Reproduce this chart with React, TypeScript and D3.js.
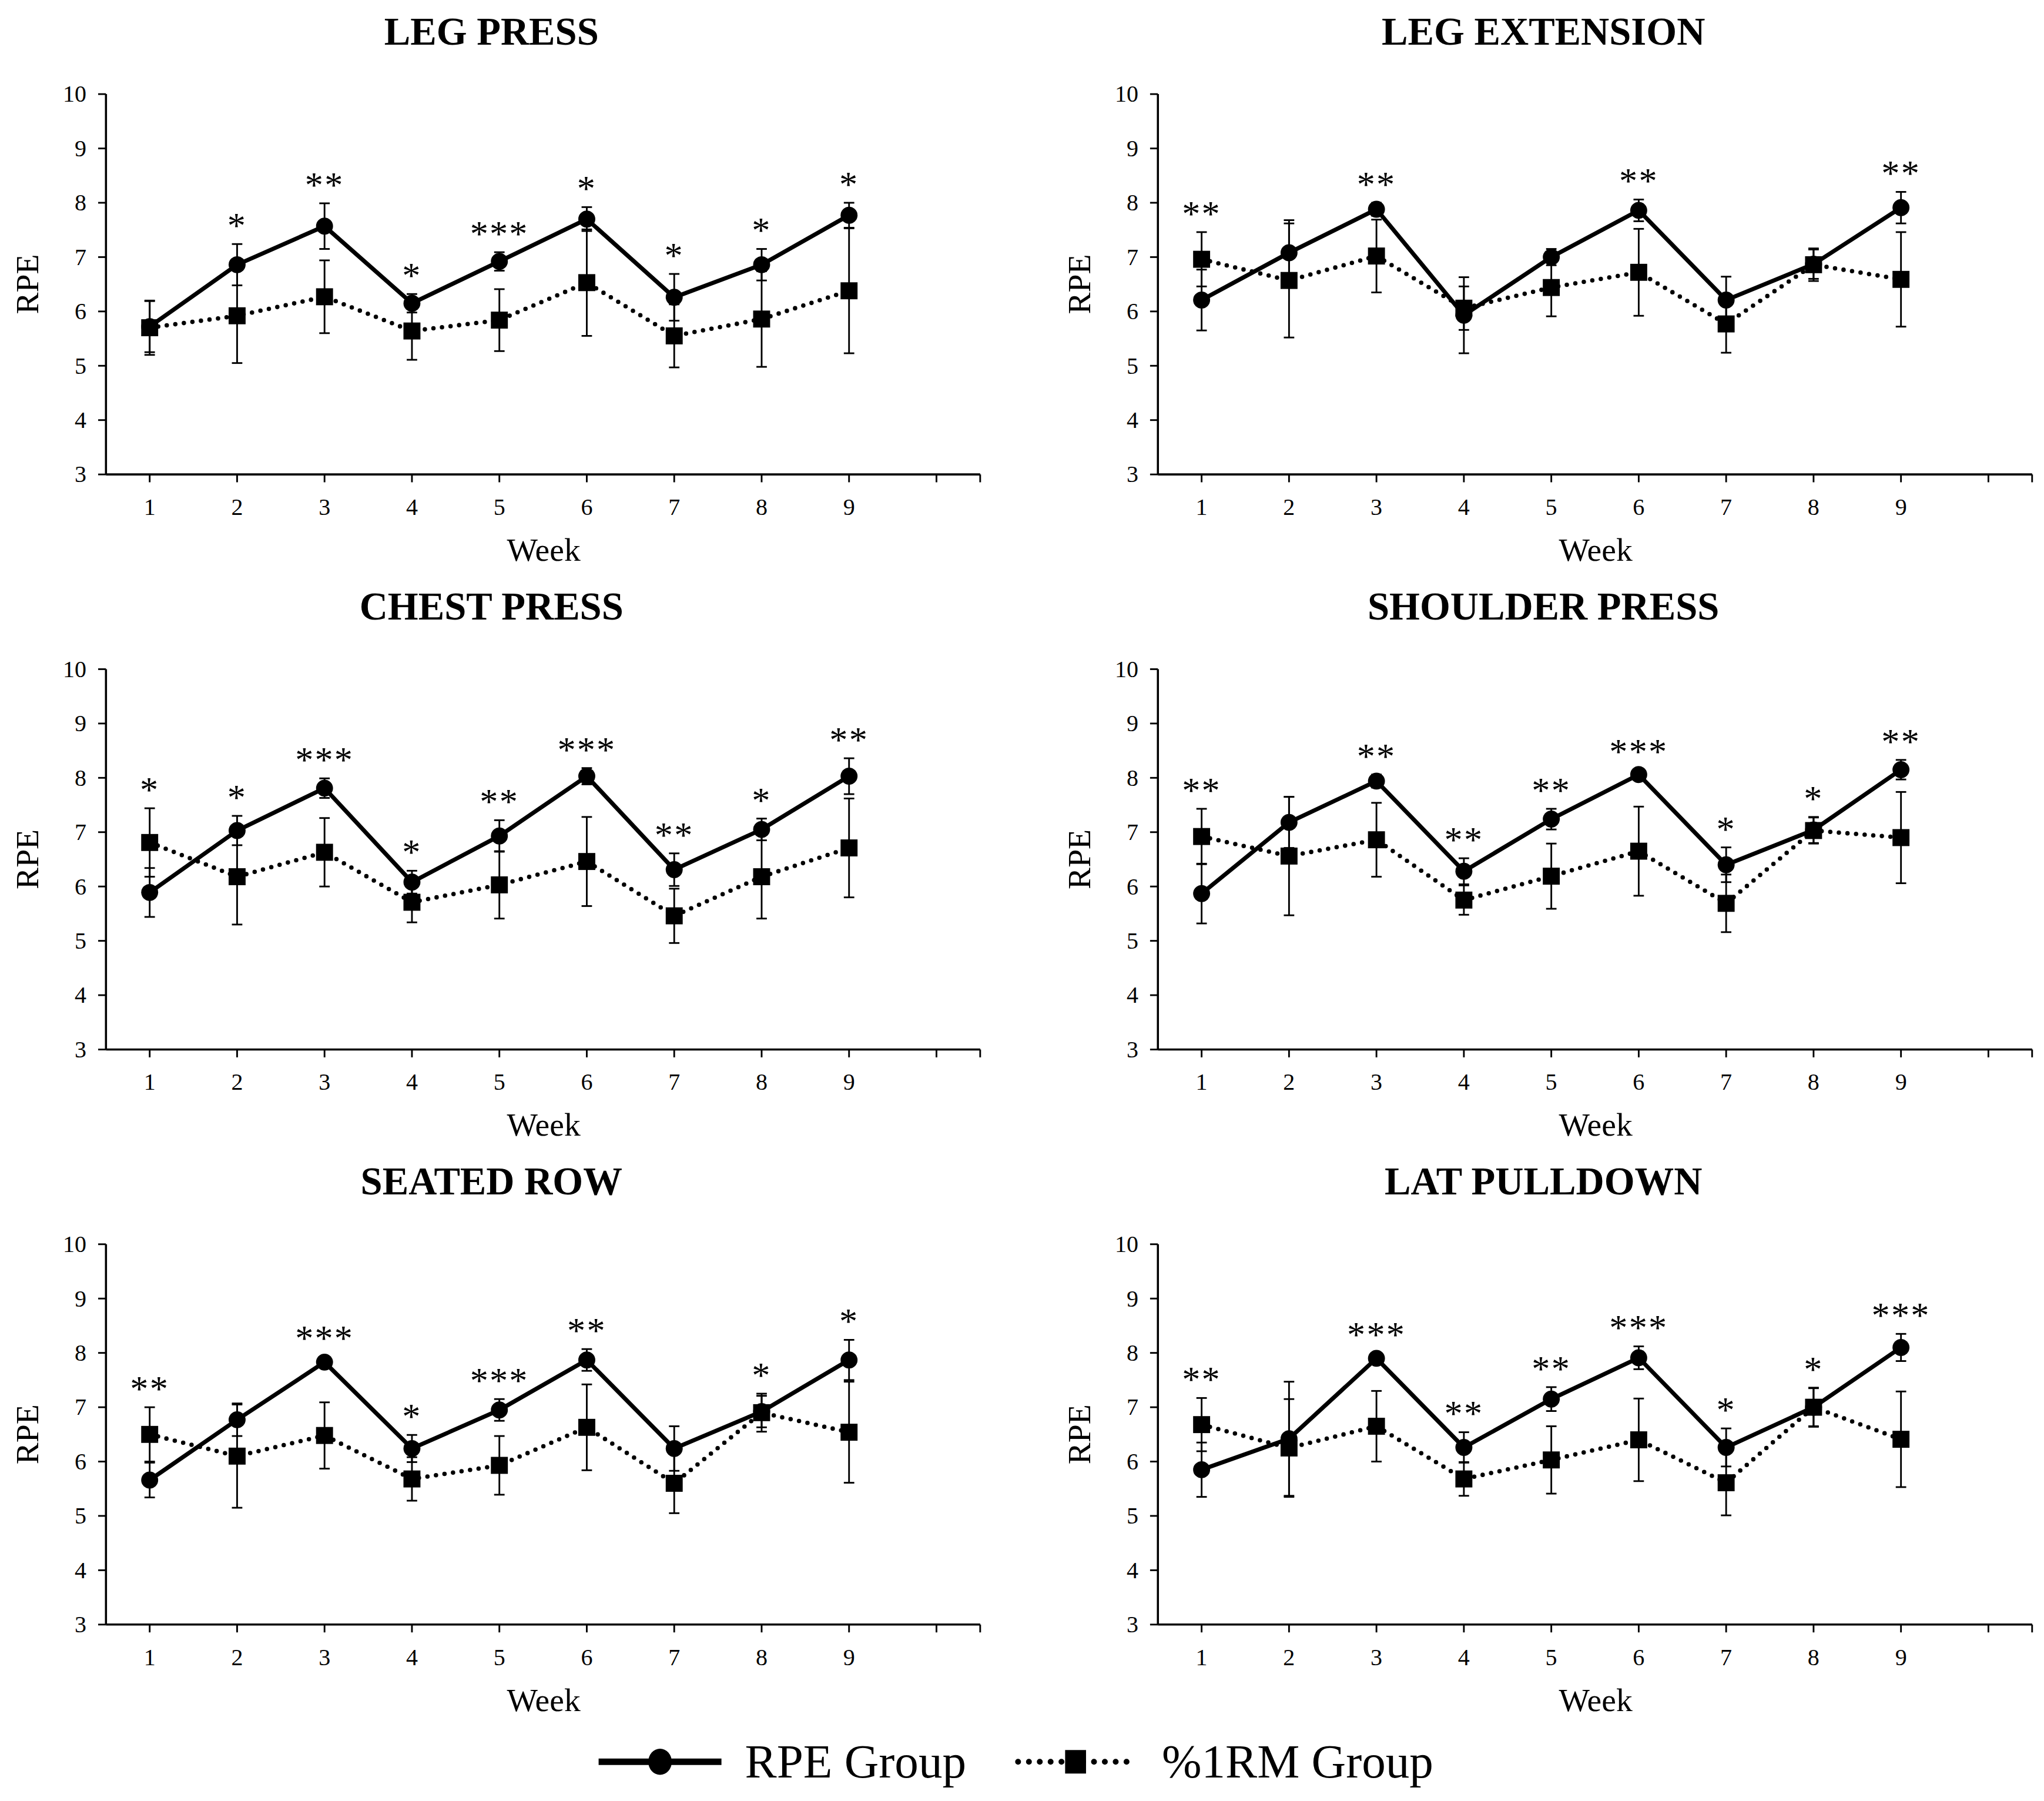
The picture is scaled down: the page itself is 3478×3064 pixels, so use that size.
import React from 'react';
import { scaleLinear, line } from 'd3';

const weeks = [1, 2, 3, 4, 5, 6, 7, 8, 9];
const yTicks = [3, 4, 5, 6, 7, 8, 9, 10];
const xTicks = [1, 2, 3, 4, 5, 6, 7, 8, 9, 10];
const exercises = ['LEG PRESS', 'LEG EXTENSION', 'CHEST PRESS', 'SHOULDER PRESS', 'SEATED ROW', 'LAT PULLDOWN'];

// RPE group means / SD per exercise (rows follow `exercises`)
const rpeMean = [
  [5.72, 6.86, 7.57, 6.15, 6.92, 7.7, 6.26, 6.86, 7.77],
  [6.21, 7.08, 7.88, 5.93, 7.0, 7.86, 6.21, 6.87, 7.91],
  [5.89, 7.03, 7.81, 6.08, 6.93, 8.03, 6.31, 7.05, 8.03],
  [5.87, 7.18, 7.94, 6.28, 7.24, 8.06, 6.4, 7.04, 8.15],
  [5.66, 6.77, 7.83, 6.24, 6.95, 7.87, 6.24, 6.92, 7.87],
  [5.85, 6.42, 7.9, 6.26, 7.15, 7.91, 6.26, 7.0, 8.1],
];
const rpeSd = [
  [0.47, 0.38, 0.42, 0.17, 0.17, 0.22, 0.43, 0.29, 0.23],
  [0.56, 0.6, 0.12, 0.7, 0.15, 0.2, 0.43, 0.27, 0.29],
  [0.45, 0.27, 0.18, 0.21, 0.29, 0.15, 0.3, 0.2, 0.33],
  [0.55, 0.47, 0.12, 0.24, 0.19, 0.08, 0.32, 0.24, 0.18],
  [0.32, 0.3, 0.1, 0.25, 0.2, 0.2, 0.41, 0.29, 0.37],
  [0.5, 1.05, 0.1, 0.28, 0.22, 0.21, 0.35, 0.36, 0.25],
];

// %1RM group means / SD
const rmMean = [
  [5.7, 5.92, 6.27, 5.64, 5.84, 6.53, 5.55, 5.86, 6.38],
  [6.96, 6.57, 7.02, 6.06, 6.44, 6.72, 5.77, 6.86, 6.59],
  [6.81, 6.18, 6.63, 5.71, 6.03, 6.46, 5.46, 6.18, 6.71],
  [6.92, 6.56, 6.86, 5.75, 6.19, 6.65, 5.69, 7.03, 6.9],
  [6.5, 6.1, 6.48, 5.68, 5.93, 6.63, 5.6, 6.9, 6.54],
  [6.68, 6.25, 6.65, 5.68, 6.03, 6.4, 5.61, 7.0, 6.41],
];
const rmSd = [
  [0.5, 0.87, 0.67, 0.53, 0.57, 0.98, 0.58, 0.88, 1.15],
  [0.5, 1.05, 0.67, 0.4, 0.53, 0.8, 0.53, 0.3, 0.87],
  [0.63, 0.88, 0.63, 0.37, 0.62, 0.82, 0.5, 0.77, 0.91],
  [0.51, 1.09, 0.68, 0.27, 0.6, 0.82, 0.53, 0.24, 0.84],
  [0.5, 0.95, 0.61, 0.4, 0.54, 0.79, 0.55, 0.35, 0.93],
  [0.49, 0.9, 0.65, 0.31, 0.62, 0.76, 0.6, 0.35, 0.88],
];

const stars = [
  ['', '*', '**', '*', '***', '*', '*', '*', '*'],
  ['**', '', '**', '', '', '**', '', '', '**'],
  ['*', '*', '***', '*', '**', '***', '**', '*', '**'],
  ['**', '', '**', '**', '**', '***', '*', '*', '**'],
  ['**', '', '***', '*', '***', '**', '', '*', '*'],
  ['**', '', '***', '**', '**', '***', '*', '*', '***'],
];

const W = 669;
const H = 291;
const colX = [81, 886];
const rowY = [72, 512, 952];
const font = "'Liberation Serif', 'Times New Roman', serif";

const x = scaleLinear().domain([0.5, 10.5]).range([0, W]);
const y = scaleLinear().domain([3, 10]).range([H, 0]);
const path = line<[number, number]>()
  .x((d) => x(d[0]))
  .y((d) => y(d[1]));

const ErrBar = ({ wk, m, s }: { wk: number; m: number; s: number }) => {
  const cx = x(wk);
  return (
    <g stroke="#000" strokeWidth={1.3}>
      <line x1={cx} x2={cx} y1={y(m - s)} y2={y(m + s)} />
      <line x1={cx - 4} x2={cx + 4} y1={y(m - s)} y2={y(m - s)} />
      <line x1={cx - 4} x2={cx + 4} y1={y(m + s)} y2={y(m + s)} />
    </g>
  );
};

const Panel = ({ idx }: { idx: number }) => {
  const tx = colX[idx % 2];
  const ty = rowY[Math.floor(idx / 2)];
  const rpe = weeks.map((w, i) => [w, rpeMean[idx][i]] as [number, number]);
  const rm = weeks.map((w, i) => [w, rmMean[idx][i]] as [number, number]);
  return (
    <g transform={`translate(${tx},${ty})`} fontFamily={font}>
      <text x={295} y={-38} textAnchor="middle" fontWeight="bold" fontSize={30}>
        {exercises[idx]}
      </text>
      <text
        transform={`translate(-52,${H / 2}) rotate(-90)`}
        textAnchor="middle"
        fontSize={25}
      >
        RPE
      </text>
      <text x={335} y={H + 66} textAnchor="middle" fontSize={25}>
        Week
      </text>
      {/* axes */}
      <line x1={0} x2={0} y1={y(10)} y2={y(3)} stroke="#000" strokeWidth={1.6} />
      <line x1={0} x2={W} y1={H} y2={H} stroke="#000" strokeWidth={1.6} />
      {yTicks.map((t) => (
        <g key={t}>
          <line x1={-6} x2={0} y1={y(t)} y2={y(t)} stroke="#000" strokeWidth={1.3} />
          <text x={-15} y={y(t) + 6} textAnchor="end" fontSize={18}>
            {t}
          </text>
        </g>
      ))}
      {xTicks.map((t) => (
        <g key={t}>
          <line x1={x(t)} x2={x(t)} y1={H} y2={H + 6} stroke="#000" strokeWidth={1.3} />
          {t <= 9 && (
            <text x={x(t)} y={H + 31} textAnchor="middle" fontSize={18}>
              {t}
            </text>
          )}
        </g>
      ))}
      <line x1={W} x2={W} y1={H} y2={H + 6} stroke="#000" strokeWidth={1.3} />
      {/* error bars */}
      {weeks.map((w, i) => (
        <g key={'e' + w}>
          <ErrBar wk={w} m={rmMean[idx][i]} s={rmSd[idx][i]} />
          <ErrBar wk={w} m={rpeMean[idx][i]} s={rpeSd[idx][i]} />
        </g>
      ))}
      {/* %1RM dotted */}
      <path
        d={path(rm) || ''}
        fill="none"
        stroke="#000"
        strokeWidth={3.4}
        strokeDasharray="0 6.6"
        strokeLinecap="round"
      />
      {rm.map((d) => (
        <rect key={'s' + d[0]} x={x(d[0]) - 6.5} y={y(d[1]) - 6.5} width={13} height={13} fill="#000" />
      ))}
      {/* RPE solid */}
      <path d={path(rpe) || ''} fill="none" stroke="#000" strokeWidth={3.2} />
      {rpe.map((d) => (
        <circle key={'c' + d[0]} cx={x(d[0])} cy={y(d[1])} r={6.5} fill="#000" />
      ))}
      {/* significance */}
      {weeks.map((w, i) => {
        const top = Math.max(rpeMean[idx][i] + rpeSd[idx][i], rmMean[idx][i] + rmSd[idx][i]);
        return (
          <text
            key={'t' + w}
            x={x(w)}
            y={y(top) - 5}
            textAnchor="middle"
            fontSize={28}
            letterSpacing={1}
          >
            {stars[idx][i]}
          </text>
        );
      })}
    </g>
  );
};

const App = () => {
  return (
    <svg
      width={3478}
      height={3064}
      viewBox="0 0 1564 1378"
      style={{ position: 'absolute', left: 0, top: 0, background: '#fff' }}
    >
      <rect width={1564} height={1378} fill="#fff" />
      {exercises.map((e, i) => (
        <Panel key={e} idx={i} />
      ))}
      <g fontFamily={font} fontSize={36.5}>
        <line x1={458} x2={552} y1={1348} y2={1348} stroke="#000" strokeWidth={5} />
        <ellipse cx={505} cy={1348} rx={9} ry={10} fill="#000" />
        <text x={570} y={1360}>RPE Group</text>
        <line
          x1={779}
          x2={862}
          y1={1348}
          y2={1348}
          stroke="#000"
          strokeWidth={4.5}
          strokeDasharray="0 8.3"
          strokeLinecap="round"
        />
        <rect x={815} y={1339} width={16} height={18} fill="#000" />
        <text x={889} y={1360}>%1RM Group</text>
      </g>
    </svg>
  );
};

export default App;
